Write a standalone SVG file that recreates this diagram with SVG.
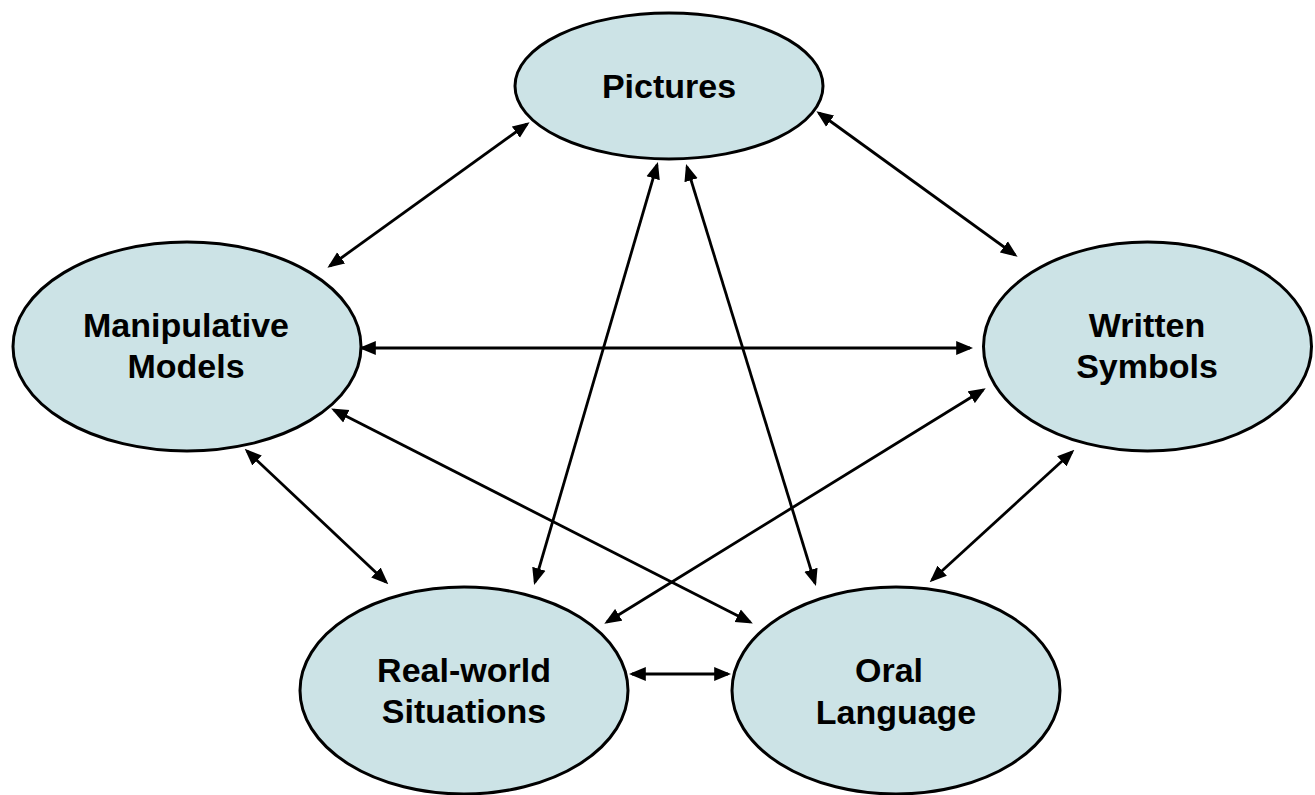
<svg xmlns="http://www.w3.org/2000/svg" width="1315" height="795" viewBox="0 0 1315 795">
<style>
.node ellipse{fill:#cce3e6;stroke:#000;stroke-width:3}
.node text{font-family:"Liberation Sans",Arial,sans-serif;font-weight:bold;font-size:34px;fill:#000;text-anchor:middle}
.conn line{stroke:#000;stroke-width:2.8;marker-start:url(#ah);marker-end:url(#ah)}
</style>
<defs>
<marker id="ah" markerUnits="userSpaceOnUse" markerWidth="17" markerHeight="15" refX="13" refY="6.5" orient="auto-start-reverse" viewBox="0 0 16 13">
<path d="M0,0 L16,6.5 L0,13 z" fill="#000"/>
</marker>
</defs>
<rect width="1315" height="795" fill="#fff"/>
<g id="connectors" class="conn">
<line x1="527" y1="124" x2="330" y2="266"/>
<line x1="819" y1="113" x2="1015" y2="255"/>
<line x1="362" y1="348" x2="970" y2="348"/>
<line x1="657" y1="165" x2="535" y2="582"/>
<line x1="687" y1="167" x2="815" y2="583"/>
<line x1="247" y1="451" x2="386" y2="582"/>
<line x1="334" y1="410" x2="750" y2="622"/>
<line x1="983" y1="390" x2="607" y2="622"/>
<line x1="1072" y1="452" x2="932" y2="580"/>
<line x1="632" y1="674" x2="728" y2="674"/>
</g>
<g id="pictures" class="node">
<ellipse cx="669" cy="86" rx="154" ry="73"/>
<text x="669" y="98">Pictures</text>
</g>
<g id="manipulative" class="node">
<ellipse cx="187" cy="346.5" rx="174" ry="104.5"/>
<text x="186" y="337">Manipulative</text>
<text x="186" y="378">Models</text>
</g>
<g id="written" class="node">
<ellipse cx="1147.5" cy="346.5" rx="164" ry="104.5"/>
<text x="1147" y="337">Written</text>
<text x="1147" y="378">Symbols</text>
</g>
<g id="realworld" class="node">
<ellipse cx="464" cy="690.5" rx="164" ry="103.5"/>
<text x="464" y="682">Real-world</text>
<text x="464" y="723">Situations</text>
</g>
<g id="oral" class="node">
<ellipse cx="896" cy="690.5" rx="164" ry="103.5"/>
<text x="889" y="682">Oral</text>
<text x="896" y="724">Language</text>
</g>
</svg>
